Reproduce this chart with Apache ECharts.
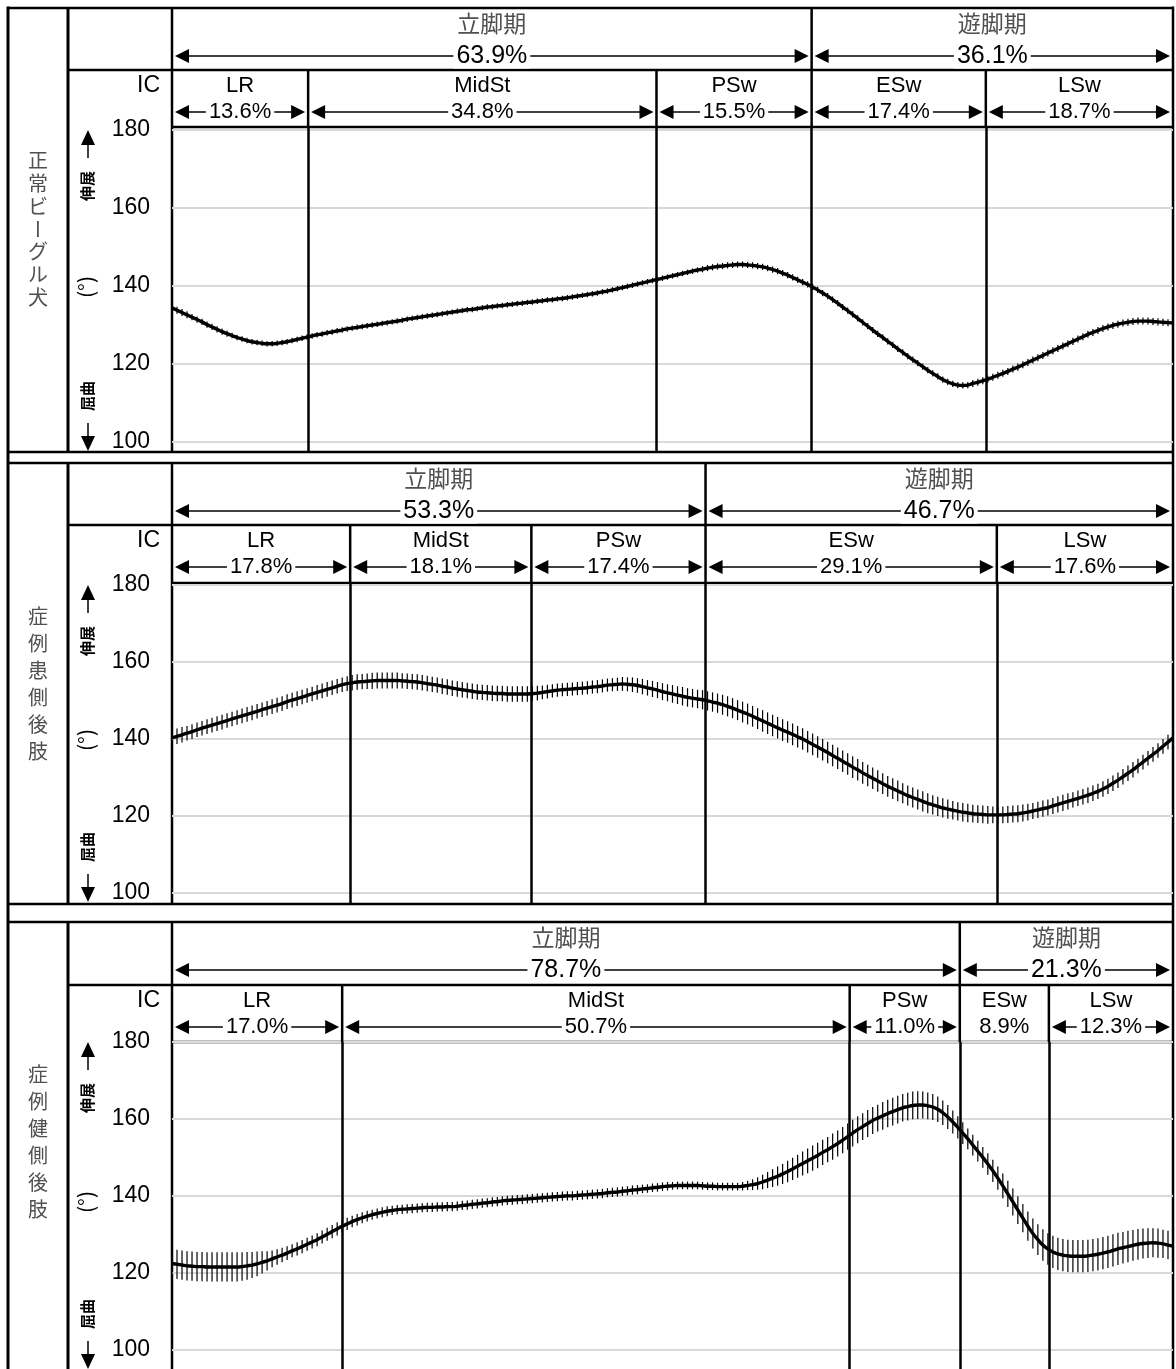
<!DOCTYPE html>
<html>
<head>
<meta charset="utf-8">
<script src="https://cdn.jsdelivr.net/npm/echarts@6/dist/echarts.min.js"></script>
<style>
html, body { margin: 0; padding: 0; background: #fff; }
#chart { width: 1176px; height: 1369px; }
</style>
</head>
<body>
<div id="chart"></div>
<script>
// ---- data -------------------------------------------------------------
// Joint angle (deg), mean and SD, sampled at every 0.5 % of the gait cycle
const cycle = Array.from({ length: 201 }, (_, i) => i / 2);

const rowTitles = ['正常ビーグル犬', '症例患側後肢', '症例健側後肢'];
const periodNames = ['立脚期', '遊脚期'];
const phaseNames = ['LR', 'MidSt', 'PSw', 'ESw', 'LSw'];
const yTicks = [100, 120, 140, 160, 180];

// normal beagle
const normalPeriodPct = [63.9, 36.1];
const normalPhasePct = [13.6, 34.8, 15.5, 17.4, 18.7];
const normalAngle = [
  134.4, 133.8, 133.2, 132.6, 132.0, 131.4, 130.8, 130.1, 129.5, 128.9, 128.3, 127.8, 127.3, 126.8, 126.4, 126.0, 125.7, 125.5, 125.3, 125.2,
  125.2, 125.3, 125.5, 125.7, 126.0, 126.3, 126.6, 126.9, 127.2, 127.5, 127.7, 128.0, 128.2, 128.5, 128.7, 129.0, 129.2, 129.4, 129.6, 129.8,
  130.0, 130.2, 130.4, 130.6, 130.8, 131.0, 131.2, 131.5, 131.7, 131.9, 132.1, 132.3, 132.5, 132.7, 132.9, 133.1, 133.3, 133.5, 133.7, 133.9,
  134.0, 134.2, 134.4, 134.6, 134.7, 134.9, 135.0, 135.2, 135.3, 135.5, 135.6, 135.8, 135.9, 136.1, 136.2, 136.4, 136.5, 136.7, 136.8, 137.0,
  137.2, 137.4, 137.6, 137.8, 138.0, 138.2, 138.5, 138.7, 139.0, 139.3, 139.6, 139.9, 140.2, 140.5, 140.8, 141.1, 141.4, 141.7, 142.0, 142.3,
  142.6, 142.9, 143.2, 143.5, 143.8, 144.1, 144.3, 144.6, 144.8, 145.0, 145.1, 145.3, 145.4, 145.5, 145.5, 145.4, 145.3, 145.1, 144.9, 144.6,
  144.2, 143.8, 143.3, 142.8, 142.2, 141.6, 141.0, 140.4, 139.7, 139.0, 138.2, 137.4, 136.5, 135.6, 134.6, 133.7, 132.7, 131.7, 130.7, 129.7,
  128.7, 127.7, 126.8, 125.8, 124.9, 123.9, 123.0, 122.0, 121.1, 120.2, 119.3, 118.4, 117.6, 116.8, 116.0, 115.4, 114.9, 114.6, 114.5, 114.6,
  115.0, 115.3, 115.7, 116.1, 116.6, 117.1, 117.6, 118.1, 118.7, 119.2, 119.8, 120.4, 121.0, 121.6, 122.2, 122.8, 123.4, 124.0, 124.6, 125.2,
  125.8, 126.4, 127.0, 127.6, 128.1, 128.6, 129.1, 129.5, 129.9, 130.2, 130.5, 130.7, 130.9, 131.0, 131.0, 131.0, 130.9, 130.8, 130.7, 130.6,
  130.5
];
const normalSD = [
  0.9, 0.9, 0.9, 0.9, 0.8, 0.8, 0.8, 0.8, 0.8, 0.8, 0.8, 0.8, 0.7, 0.7, 0.7, 0.7, 0.7, 0.7, 0.7, 0.7,
  0.7, 0.7, 0.7, 0.7, 0.7, 0.7, 0.7, 0.7, 0.7, 0.7, 0.7, 0.7, 0.7, 0.7, 0.7, 0.7, 0.7, 0.7, 0.7, 0.7,
  0.7, 0.7, 0.7, 0.7, 0.7, 0.7, 0.7, 0.7, 0.7, 0.7, 0.7, 0.7, 0.7, 0.7, 0.7, 0.7, 0.7, 0.7, 0.7, 0.7,
  0.7, 0.7, 0.7, 0.7, 0.7, 0.7, 0.7, 0.7, 0.7, 0.7, 0.7, 0.7, 0.7, 0.7, 0.7, 0.7, 0.7, 0.7, 0.7, 0.7,
  0.7, 0.7, 0.7, 0.7, 0.7, 0.7, 0.7, 0.7, 0.7, 0.7, 0.7, 0.7, 0.7, 0.7, 0.7, 0.7, 0.7, 0.7, 0.7, 0.7,
  0.7, 0.7, 0.7, 0.7, 0.7, 0.7, 0.8, 0.8, 0.8, 0.8, 0.8, 0.8, 0.8, 0.8, 0.8, 0.8, 0.8, 0.8, 0.8, 0.8,
  0.8, 0.8, 0.8, 0.8, 0.8, 0.8, 0.8, 0.8, 0.8, 0.8, 0.8, 0.8, 0.8, 0.8, 0.8, 0.8, 0.8, 0.8, 0.8, 0.8,
  0.8, 0.8, 0.8, 0.8, 0.8, 0.8, 0.8, 0.8, 0.8, 0.8, 0.8, 0.8, 0.8, 0.8, 0.8, 0.8, 0.8, 0.8, 0.8, 0.8,
  0.9, 0.9, 0.9, 0.9, 0.9, 0.9, 0.9, 0.9, 0.9, 0.9, 0.9, 0.9, 0.9, 0.9, 0.9, 0.9, 0.9, 0.9, 0.9, 0.9,
  0.9, 0.9, 0.9, 0.9, 0.9, 0.9, 0.9, 0.9, 0.9, 0.9, 0.9, 0.9, 0.9, 0.9, 0.9, 0.9, 0.9, 0.9, 0.9, 0.9,
  0.9
];

// affected hind limb
const affectedPeriodPct = [53.3, 46.7];
const affectedPhasePct = [17.8, 18.1, 17.4, 29.1, 17.6];
const affectedAngle = [
  140.3, 140.7, 141.1, 141.5, 141.9, 142.4, 142.8, 143.2, 143.6, 144.0, 144.4, 144.8, 145.2, 145.6, 146.0, 146.4, 146.8, 147.2, 147.6, 148.0,
  148.4, 148.8, 149.2, 149.7, 150.1, 150.5, 150.9, 151.3, 151.7, 152.1, 152.5, 152.9, 153.3, 153.7, 154.1, 154.4, 154.6, 154.8, 154.9, 155.0,
  155.1, 155.2, 155.2, 155.2, 155.2, 155.2, 155.1, 155.0, 154.9, 154.8, 154.6, 154.4, 154.2, 154.0, 153.7, 153.5, 153.2, 153.0, 152.8, 152.6,
  152.4, 152.2, 152.1, 152.0, 151.9, 151.8, 151.8, 151.7, 151.7, 151.7, 151.7, 151.7, 151.8, 151.9, 152.1, 152.3, 152.5, 152.7, 152.8, 152.9,
  153.0, 153.1, 153.2, 153.3, 153.5, 153.6, 153.8, 154.0, 154.1, 154.2, 154.3, 154.2, 154.1, 153.9, 153.6, 153.3, 153.0, 152.7, 152.3, 152.0,
  151.7, 151.4, 151.1, 150.8, 150.6, 150.4, 150.2, 149.9, 149.6, 149.3, 148.9, 148.5, 148.0, 147.5, 147.0, 146.5, 145.9, 145.3, 144.7, 144.1,
  143.5, 142.9, 142.3, 141.8, 141.2, 140.6, 140.0, 139.3, 138.6, 137.9, 137.2, 136.5, 135.7, 135.0, 134.2, 133.5, 132.7, 132.0, 131.2, 130.5,
  129.8, 129.1, 128.4, 127.7, 127.1, 126.5, 125.9, 125.3, 124.8, 124.3, 123.8, 123.3, 122.9, 122.5, 122.1, 121.8, 121.5, 121.2, 121.0, 120.8,
  120.6, 120.5, 120.4, 120.3, 120.3, 120.3, 120.3, 120.4, 120.5, 120.6, 120.8, 121.0, 121.3, 121.6, 121.9, 122.2, 122.6, 123.0, 123.4, 123.8,
  124.2, 124.6, 125.0, 125.4, 125.9, 126.4, 127.0, 127.7, 128.5, 129.3, 130.2, 131.1, 132.0, 133.0, 134.0, 135.0, 136.0, 137.0, 138.1, 139.2,
  140.3
];
const affectedSD = [
  2.0, 2.0, 2.0, 1.9, 1.9, 1.9, 1.9, 1.9, 1.9, 1.9, 1.9, 1.9, 1.9, 1.9, 1.9, 1.9, 1.9, 1.9, 1.9, 1.9,
  1.9, 1.9, 1.9, 1.9, 1.9, 1.9, 1.9, 1.9, 1.9, 1.9, 1.9, 1.9, 1.9, 1.9, 1.9, 1.9, 2.0, 2.0, 2.0, 2.0,
  2.1, 2.1, 2.1, 2.1, 2.1, 2.1, 2.0, 2.0, 2.0, 2.0, 2.0, 2.0, 2.0, 2.0, 2.0, 2.0, 2.0, 2.0, 2.0, 2.0,
  2.0, 2.0, 2.0, 2.0, 2.0, 2.0, 2.0, 2.0, 2.0, 2.0, 2.0, 2.0, 1.9, 1.9, 1.8, 1.8, 1.7, 1.7, 1.7, 1.7,
  1.7, 1.7, 1.7, 1.7, 1.7, 1.7, 1.7, 1.7, 1.7, 1.7, 1.8, 1.8, 1.9, 1.9, 2.0, 2.0, 2.1, 2.1, 2.2, 2.2,
  2.3, 2.3, 2.4, 2.4, 2.4, 2.4, 2.5, 2.5, 2.5, 2.5, 2.6, 2.6, 2.6, 2.6, 2.7, 2.7, 2.7, 2.7, 2.8, 2.8,
  2.8, 2.8, 2.8, 2.8, 2.8, 2.8, 2.8, 2.8, 2.8, 2.8, 2.8, 2.8, 2.8, 2.8, 2.8, 2.8, 2.8, 2.8, 2.8, 2.8,
  2.8, 2.8, 2.7, 2.7, 2.7, 2.7, 2.6, 2.6, 2.6, 2.6, 2.6, 2.6, 2.5, 2.5, 2.5, 2.5, 2.4, 2.4, 2.4, 2.4,
  2.3, 2.3, 2.3, 2.3, 2.2, 2.2, 2.2, 2.2, 2.2, 2.2, 2.2, 2.2, 2.1, 2.1, 2.1, 2.1, 2.1, 2.1, 2.1, 2.1,
  2.0, 2.0, 2.0, 2.0, 2.0, 2.0, 2.0, 2.0, 2.0, 2.0, 2.0, 2.0, 2.0, 1.9, 1.9, 1.9, 1.9, 1.9, 1.9, 1.9,
  1.9
];

// sound hind limb
const soundPeriodPct = [78.7, 21.3];
const soundPhasePct = [17.0, 50.7, 11.0, 8.9, 12.3];
const soundAngle = [
  122.4, 122.2, 122.0, 121.8, 121.7, 121.6, 121.6, 121.5, 121.5, 121.5, 121.5, 121.5, 121.5, 121.5, 121.6, 121.8, 122.0, 122.3, 122.7, 123.1,
  123.6, 124.1, 124.6, 125.1, 125.7, 126.2, 126.8, 127.4, 128.0, 128.6, 129.3, 130.0, 130.7, 131.4, 132.1, 132.7, 133.3, 133.8, 134.3, 134.7,
  135.1, 135.4, 135.7, 136.0, 136.2, 136.4, 136.5, 136.6, 136.7, 136.8, 136.9, 137.0, 137.0, 137.1, 137.1, 137.2, 137.2, 137.3, 137.5, 137.6,
  137.8, 137.9, 138.1, 138.2, 138.4, 138.5, 138.7, 138.8, 138.9, 139.0, 139.1, 139.2, 139.3, 139.4, 139.5, 139.6, 139.7, 139.8, 139.9, 140.0,
  140.0, 140.1, 140.2, 140.3, 140.4, 140.5, 140.6, 140.8, 140.9, 141.0, 141.2, 141.3, 141.5, 141.6, 141.8, 141.9, 142.1, 142.2, 142.4, 142.5,
  142.6, 142.7, 142.7, 142.7, 142.7, 142.7, 142.6, 142.5, 142.5, 142.4, 142.4, 142.4, 142.4, 142.4, 142.5, 142.7, 142.9, 143.2, 143.6, 144.1,
  144.6, 145.1, 145.7, 146.3, 147.0, 147.7, 148.4, 149.1, 149.8, 150.5, 151.3, 152.0, 152.8, 153.6, 154.5, 155.4, 156.3, 157.2, 158.0, 158.8,
  159.6, 160.2, 160.8, 161.4, 161.9, 162.4, 162.9, 163.2, 163.5, 163.6, 163.6, 163.4, 163.1, 162.5, 161.6, 160.5, 159.2, 157.8, 156.3, 154.8,
  153.2, 151.6, 150.0, 148.3, 146.5, 144.6, 142.6, 140.5, 138.4, 136.3, 134.2, 132.1, 130.2, 128.6, 127.2, 126.2, 125.4, 124.9, 124.6, 124.4,
  124.3, 124.3, 124.3, 124.4, 124.6, 124.8, 125.1, 125.4, 125.8, 126.2, 126.5, 126.8, 127.1, 127.4, 127.6, 127.7, 127.8, 127.7, 127.5, 127.2,
  126.9
];
const soundSD = [
  3.8, 3.8, 3.8, 3.8, 3.8, 3.8, 3.8, 3.8, 3.8, 3.8, 3.8, 3.8, 3.8, 3.8, 3.7, 3.6, 3.4, 3.2, 2.9, 2.5,
  2.2, 2.0, 1.9, 1.8, 1.7, 1.7, 1.7, 1.7, 1.7, 1.7, 1.7, 1.7, 1.7, 1.7, 1.6, 1.6, 1.5, 1.5, 1.4, 1.4,
  1.3, 1.3, 1.3, 1.3, 1.2, 1.2, 1.2, 1.2, 1.2, 1.2, 1.2, 1.2, 1.2, 1.2, 1.2, 1.2, 1.2, 1.2, 1.2, 1.2,
  1.2, 1.2, 1.2, 1.2, 1.2, 1.2, 1.2, 1.2, 1.2, 1.2, 1.2, 1.2, 1.2, 1.2, 1.2, 1.2, 1.2, 1.2, 1.2, 1.2,
  1.2, 1.2, 1.2, 1.2, 1.2, 1.2, 1.2, 1.2, 1.2, 1.2, 1.2, 1.2, 1.2, 1.2, 1.1, 1.1, 1.1, 1.1, 1.1, 1.1,
  1.0, 1.0, 1.0, 1.0, 1.0, 1.0, 1.0, 1.0, 1.0, 1.0, 1.0, 1.0, 1.0, 1.0, 1.1, 1.2, 1.4, 1.6, 1.9, 2.1,
  2.3, 2.5, 2.6, 2.8, 2.9, 3.0, 3.1, 3.2, 3.3, 3.3, 3.3, 3.3, 3.4, 3.4, 3.4, 3.4, 3.5, 3.5, 3.5, 3.5,
  3.5, 3.5, 3.6, 3.6, 3.6, 3.6, 3.6, 3.6, 3.6, 3.6, 3.5, 3.5, 3.4, 3.3, 3.2, 3.1, 3.0, 2.9, 2.8, 2.7,
  2.7, 2.7, 2.7, 2.8, 2.9, 3.0, 3.2, 3.4, 3.5, 3.6, 3.7, 3.8, 3.9, 4.0, 4.1, 4.1, 4.2, 4.2, 4.2, 4.2,
  4.2, 4.2, 4.2, 4.2, 4.2, 4.2, 4.2, 4.2, 4.2, 4.2, 4.1, 4.1, 4.0, 4.0, 3.9, 3.9, 3.8, 3.8, 3.7, 3.7,
  3.6
];

// ---- layout -----------------------------------------------------------
const LATIN = '"Liberation Sans", Arial, sans-serif';
const CJK = '"Noto Sans CJK JP", sans-serif';
const COL_A = 8, COL_B = 68, PLOT_LEFT = 172, PLOT_RIGHT = 1173;
const frames = [
  { top: 8,   row1: 70,  row2: 127,  bottom: 452,  y180: 130,  y100: 442 },
  { top: 463, row1: 525, row2: 583,  bottom: 904,  y180: 585,  y100: 893 },
  { top: 922, row1: 985, row2: 1042, bottom: 1380, y180: 1042, y100: 1360 }
];
const titlePitch = [22.8, 27, 27];
const titleCenter = [229, 684, 1142];

const panels = [
  { title: rowTitles[0], angle: normalAngle, sd: normalSD, period: normalPeriodPct, phase: normalPhasePct },
  { title: rowTitles[1], angle: affectedAngle, sd: affectedSD, period: affectedPeriodPct, phase: affectedPhasePct },
  { title: rowTitles[2], angle: soundAngle, sd: soundSD, period: soundPeriodPct, phase: soundPhasePct }
];

function segments(pcts) {
  let s = 0;
  return pcts.map((v, k) => {
    const a = s;
    s += v;
    return [a, k === pcts.length - 1 ? 100 : s, v];
  });
}

function textStyle(text, font, fill, extra) {
  return Object.assign({
    text: text, font: font, fill: fill,
    align: 'center', verticalAlign: 'middle',
    textAlign: 'center', textVerticalAlign: 'middle'
  }, extra || {});
}

// header cells: name on top, double arrow with the percentage below
function headerRenderer(names, nameDy, arrowDy, nameFont, nameFill, pctFont) {
  return function (params, api) {
    const start = api.value(0), end = api.value(1), pct = api.value(2);
    const cs = params.coordSys;
    const x0 = api.coord([start, 0.5])[0];
    const x1 = api.coord([end, 0.5])[0];
    const mid = (x0 + x1) / 2;
    const ay = cs.y + arrowDy;
    const children = [];
    children.push({
      type: 'text', x: mid, y: cs.y + nameDy,
      style: textStyle(names[params.dataIndex], nameFont, nameFill)
    });
    if (pct >= 10) {
      children.push({ type: 'line', shape: { x1: x0 + 6, y1: ay, x2: x1 - 6, y2: ay },
        style: { stroke: '#000', lineWidth: 1.5 } });
      children.push({ type: 'polygon', shape: { points: [[x0 + 3, ay], [x0 + 17, ay - 7], [x0 + 17, ay + 7]] },
        style: { fill: '#000' } });
      children.push({ type: 'polygon', shape: { points: [[x1 - 3, ay], [x1 - 17, ay - 7], [x1 - 17, ay + 7]] },
        style: { fill: '#000' } });
    }
    children.push({
      type: 'text', x: mid, y: ay,
      style: textStyle(pct.toFixed(1) + '%', pctFont, '#000', { backgroundColor: '#fff', padding: [0, 3] })
    });
    if (end < 100) {
      children.push({ type: 'line', shape: { x1: x1, y1: cs.y, x2: x1, y2: cs.y + cs.height },
        style: { stroke: '#000', lineWidth: 2.5 } });
    }
    return { type: 'group', children: children };
  };
}

// vertical SD bar at each sample
function renderErrorBar(params, api) {
  const x = api.value(0), m = api.value(1), sd = api.value(2);
  const lo = api.coord([x, m - sd]);
  const hi = api.coord([x, m + sd]);
  return { type: 'line', shape: { x1: lo[0], y1: lo[1], x2: hi[0], y2: hi[1] },
    style: { stroke: '#000', lineWidth: 1.2 } };
}

const grids = [], xAxes = [], yAxes = [], series = [], elements = [];

function hline(x1, x2, y, w) {
  return { type: 'line', silent: true, shape: { x1: x1, y1: y, x2: x2, y2: y },
    style: { stroke: '#000', lineWidth: w || 2.5 } };
}
function vline(x, y1, y2, w) {
  return { type: 'line', silent: true, shape: { x1: x, y1: y1, x2: x, y2: y2 },
    style: { stroke: '#000', lineWidth: w || 2.5 } };
}
function arrowHead(x, tipY, dir) {
  return { type: 'polygon', silent: true,
    shape: { points: [[x, tipY], [x - 7, tipY - dir * 15], [x + 7, tipY - dir * 15]] },
    style: { fill: '#000' } };
}

panels.forEach((p, i) => {
  const f = frames[i];
  const w = PLOT_RIGHT - PLOT_LEFT;
  const ppd = (f.y100 - f.y180) / 80;
  const g = grids.length;

  grids.push({ left: PLOT_LEFT, top: f.row2, width: w, height: f.bottom - f.row2 });
  grids.push({ left: PLOT_LEFT, top: f.top, width: w, height: f.row1 - f.top });
  grids.push({ left: PLOT_LEFT, top: f.row1, width: w, height: f.row2 - f.row1 });

  xAxes.push({ gridIndex: g, type: 'value', min: 0, max: 100, show: false });
  yAxes.push({
    gridIndex: g, type: 'value',
    min: 100 - (f.bottom - f.y100) / ppd,
    max: 180 + (f.y180 - f.row2) / ppd,
    axisLine: { show: false },
    axisTick: { show: false, customValues: yTicks },
    axisLabel: {
      customValues: yTicks, margin: 22, fontSize: 23, color: '#000', fontFamily: LATIN,
      formatter: v => (Math.abs(v % 20) < 1e-6 ? String(v) : '')
    },
    splitLine: { show: true, lineStyle: { color: '#d9d9d9', width: 2 } }
  });
  for (let k = 1; k <= 2; k++) {
    xAxes.push({ gridIndex: g + k, type: 'value', min: 0, max: 100, show: false });
    yAxes.push({ gridIndex: g + k, type: 'value', min: 0, max: 1, show: false });
  }

  const phaseSegs = segments(p.phase);
  const periodSegs = segments(p.period);
  const boundaries = phaseSegs.slice(0, -1).map(s => s[1]);

  series.push({
    type: 'line', xAxisIndex: g, yAxisIndex: g, z: 4,
    data: cycle.map((x, k) => [x, p.angle[k]]),
    smooth: true, symbol: 'none', showSymbol: false,
    lineStyle: { color: '#000', width: 3.4 },
    markLine: {
      silent: true, symbol: ['none', 'none'], label: { show: false },
      lineStyle: { color: '#000', width: 2.5, type: 'solid' },
      emphasis: { disabled: true },
      data: boundaries.map(b => ({ xAxis: b }))
    }
  });
  series.push({
    type: 'custom', xAxisIndex: g, yAxisIndex: g, z: 3, silent: true,
    renderItem: renderErrorBar,
    data: cycle.map((x, k) => [x, p.angle[k], p.sd[k]])
  });
  series.push({
    type: 'custom', xAxisIndex: g + 1, yAxisIndex: g + 1, silent: true,
    renderItem: headerRenderer(periodNames, 15, 48, '23px ' + CJK, '#505050', '25px ' + LATIN),
    data: periodSegs
  });
  series.push({
    type: 'custom', xAxisIndex: g + 2, yAxisIndex: g + 2, silent: true,
    renderItem: headerRenderer(phaseNames, 16, 42, '22px ' + LATIN, '#000', '22px ' + LATIN),
    data: phaseSegs
  });

  // table frame of this panel
  elements.push(hline(COL_A, PLOT_RIGHT, f.top));
  elements.push(hline(COL_B, PLOT_RIGHT, f.row1));
  elements.push(hline(PLOT_LEFT, PLOT_RIGHT, f.row2));
  elements.push(hline(COL_A, PLOT_RIGHT, f.bottom));
  elements.push(vline(COL_B, f.top, f.bottom, 3));
  elements.push(vline(PLOT_LEFT, f.top, f.bottom));

  // row title, written vertically
  const chars = Array.from(p.title);
  chars.forEach((ch, k) => {
    elements.push({
      type: 'text', silent: true,
      x: (COL_A + COL_B) / 2,
      y: titleCenter[i] + (k - (chars.length - 1) / 2) * titlePitch[i],
      rotation: ch === 'ー' ? Math.PI / 2 : 0,
      style: textStyle(ch, '20px ' + CJK, '#505050')
    });
  });

  // axis column: IC, direction arrows and unit
  elements.push({ type: 'text', silent: true, x: 160, y: f.row1 + 16,
    style: textStyle('IC', '23px ' + LATIN, '#000', { align: 'right', textAlign: 'right' }) });
  elements.push(arrowHead(88, f.y180, -1));
  elements.push(vline(88, f.y180 + 14, f.y180 + 28, 1.5));
  elements.push({ type: 'text', silent: true, x: 87, y: f.y180 + 56, rotation: Math.PI / 2,
    style: textStyle('伸展', 'bold 15px ' + CJK, '#000') });
  elements.push({ type: 'text', silent: true, x: 86, y: (f.y180 + f.y100) / 2 + 1, rotation: Math.PI / 2,
    style: textStyle('(°)', '21px ' + CJK, '#000') });
  elements.push({ type: 'text', silent: true, x: 87, y: f.y100 - 46, rotation: Math.PI / 2,
    style: textStyle('屈曲', 'bold 15px ' + CJK, '#000') });
  elements.push(vline(88, f.y100 - 19, f.y100 - 5, 1.5));
  elements.push(arrowHead(88, f.y100 + 9, 1));
});

elements.push(vline(COL_A, 6.5, 1380, 3));
elements.push(vline(PLOT_RIGHT, 6.5, 1380, 2.5));

const chart = echarts.init(document.getElementById('chart'), null, { renderer: 'canvas' });
chart.setOption({
  animation: false,
  backgroundColor: '#fff',
  grid: grids,
  xAxis: xAxes,
  yAxis: yAxes,
  series: series,
  graphic: { elements: elements }
});
</script>
</body>
</html>
